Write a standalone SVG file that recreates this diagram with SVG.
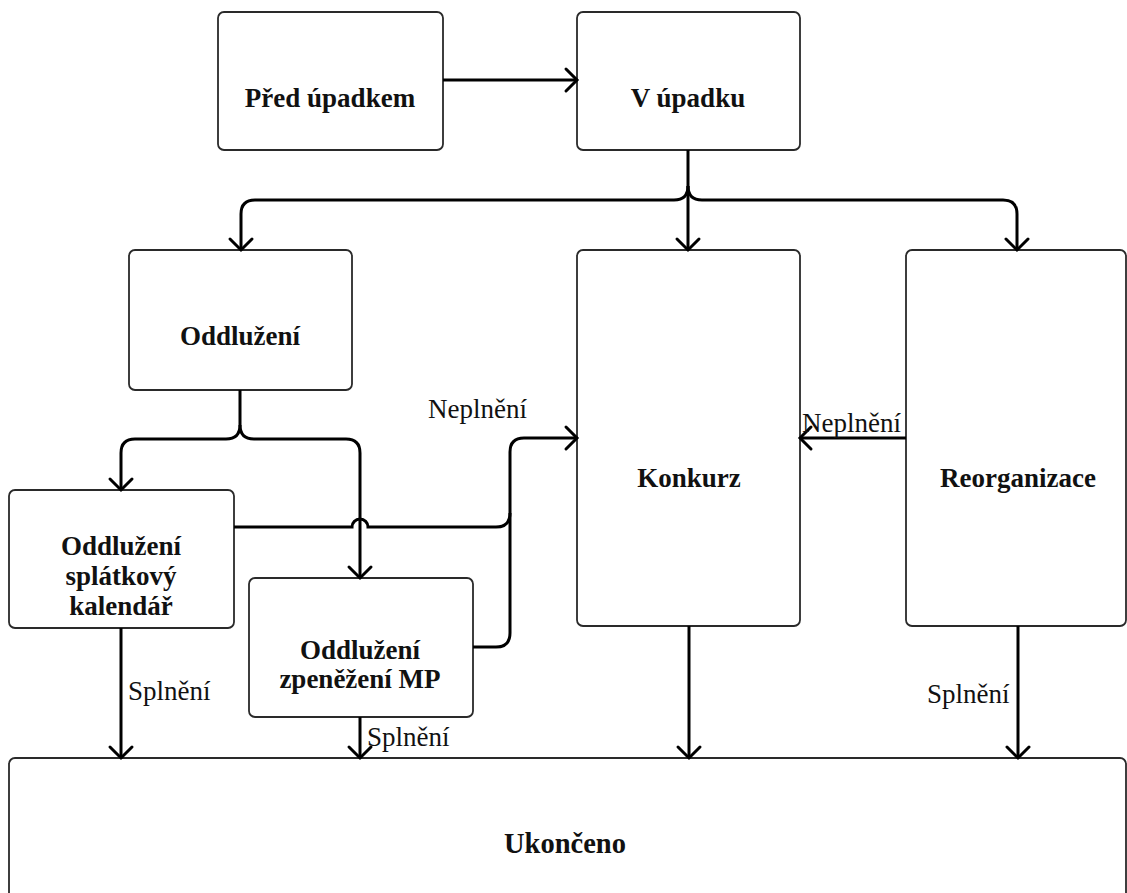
<svg xmlns="http://www.w3.org/2000/svg" width="1127" height="893" viewBox="0 0 1127 893">
  <style>
    .box { fill: #ffffff; stroke: #2a2a2a; stroke-width: 1.8; }
    .title { font-family: "Liberation Serif", "Times New Roman", serif; font-weight: bold; font-size: 27px; fill: #111; text-anchor: middle; }
    .label { font-family: "Liberation Serif", "Times New Roman", serif; font-size: 27px; fill: #111; }
    .wire { fill: none; stroke: #000; stroke-width: 3; }
  </style>
  <defs>
    <marker id="chevron" markerUnits="userSpaceOnUse" markerWidth="30" markerHeight="30" viewBox="-15 -15 30 30" refX="0" refY="0" orient="auto">
      <path d="M-11,-11 L0,0 L-11,11" fill="none" stroke="#000" stroke-width="3" stroke-linecap="round" stroke-linejoin="miter"/>
    </marker>
  </defs>
  <rect width="1127" height="893" fill="#ffffff"/>

  <!-- states -->
  <g id="pred-upadkem">
    <rect class="box" x="218" y="12" width="225" height="138" rx="6"/>
    <text class="title" x="330" y="107">Před úpadkem</text>
  </g>
  <g id="v-upadku">
    <rect class="box" x="577" y="12" width="223" height="138" rx="6"/>
    <text class="title" x="688" y="107">V úpadku</text>
  </g>
  <g id="oddluzeni">
    <rect class="box" x="129" y="250" width="223" height="140" rx="6"/>
    <text class="title" x="240" y="345">Oddlužení</text>
  </g>
  <g id="konkurz">
    <rect class="box" x="577" y="250" width="223" height="376" rx="6"/>
    <text class="title" x="689" y="487">Konkurz</text>
  </g>
  <g id="reorganizace">
    <rect class="box" x="906" y="250" width="220" height="376" rx="6"/>
    <text class="title" x="1018" y="487">Reorganizace</text>
  </g>
  <g id="splatkovy-kalendar">
    <rect class="box" x="9" y="490" width="225" height="138" rx="6"/>
    <text class="title" x="121" y="555">Oddlužení</text>
    <text class="title" x="121" y="585">splátkový</text>
    <text class="title" x="121" y="615">kalendář</text>
  </g>
  <g id="zpenezeni-mp">
    <rect class="box" x="249" y="578" width="224" height="139" rx="6"/>
    <text class="title" x="360" y="659">Oddlužení</text>
    <text class="title" x="360" y="688">zpeněžení MP</text>
  </g>
  <g id="ukonceno">
    <rect class="box" x="9" y="758" width="1117" height="160" rx="6"/>
    <text class="title" x="565" y="853" style="font-size:28.5px">Ukončeno</text>
  </g>

  <!-- transitions -->
  <g id="connectors">
    <path class="wire" d="M443,80 H577" marker-end="url(#chevron)"/>
    <path class="wire" d="M688,150 V250" marker-end="url(#chevron)"/>
    <path class="wire" d="M688,186 Q688,200 674,200 H255 Q241,200 241,214 V250" marker-end="url(#chevron)"/>
    <path class="wire" d="M688,186 Q688,200 702,200 H1003 Q1017,200 1017,214 V250" marker-end="url(#chevron)"/>

    <path class="wire" d="M240,390 V425 Q240,439 226,439 H135 Q121,439 121,453 V490" marker-end="url(#chevron)"/>
    <path class="wire" d="M240,425 Q240,439 254,439 H346 Q360,439 360,453 V578" marker-end="url(#chevron)"/>

    <path class="wire" d="M234,527 H352 A8,8 0 0 1 368,527 H496 Q510,527 510,513 V452 Q510,438 524,438 H577" marker-end="url(#chevron)"/>
    <path class="wire" d="M473,647 H496 Q510,647 510,633 V513"/>

    <path class="wire" d="M906,438 H800" marker-end="url(#chevron)"/>

    <path class="wire" d="M121,628 V758" marker-end="url(#chevron)"/>
    <path class="wire" d="M360,717 V758" marker-end="url(#chevron)"/>
    <path class="wire" d="M689,626 V758" marker-end="url(#chevron)"/>
    <path class="wire" d="M1018,626 V758" marker-end="url(#chevron)"/>

    <text class="label" x="428" y="418">Neplnění</text>
    <text class="label" x="802" y="432">Neplnění</text>
    <text class="label" x="128" y="700">Splnění</text>
    <text class="label" x="367" y="746">Splnění</text>
    <text class="label" x="927" y="703">Splnění</text>
  </g>
</svg>
